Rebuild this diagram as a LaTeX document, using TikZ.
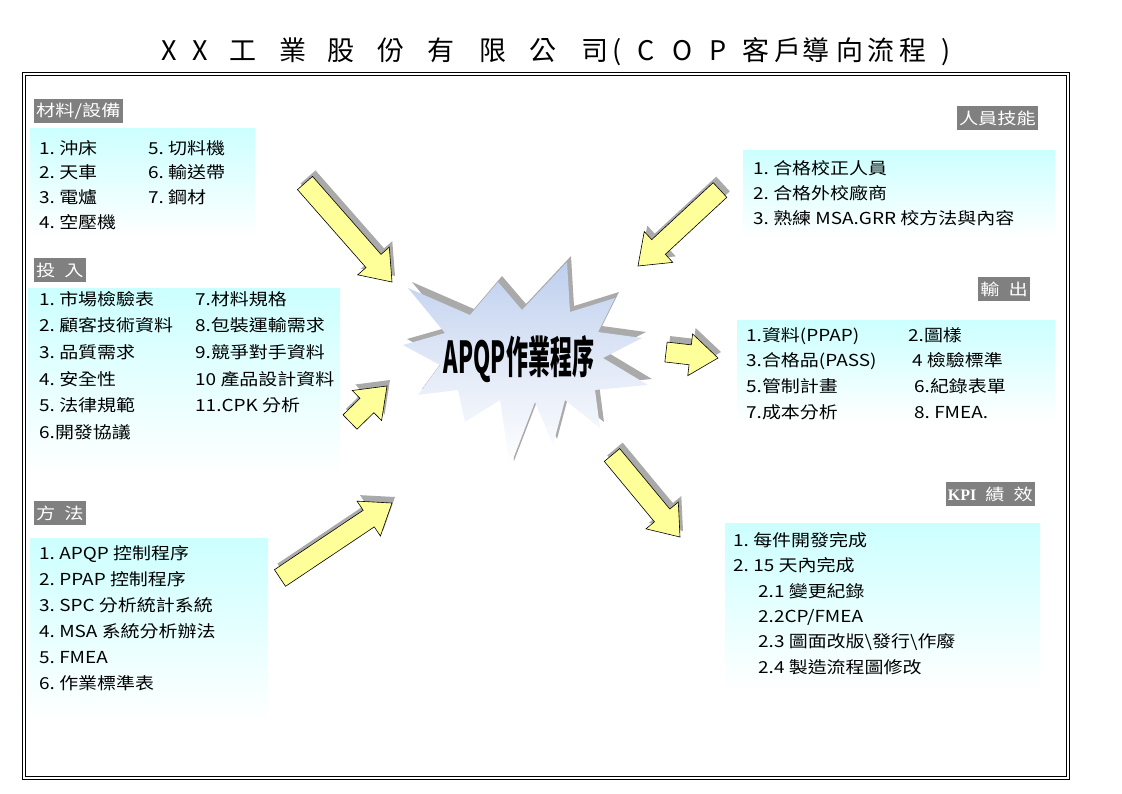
\documentclass[tikz,border=0pt]{standalone}
\usepackage{fontspec}
\usetikzlibrary{calc}
\newfontfamily\cjk{Noto Sans CJK TC}[FakeStretch=1.15]
\newfontfamily\cjklabel{Noto Sans CJK TC}[FakeStretch=1.2]
\newfontfamily\cjktitle{Noto Sans CJK TC}
\newfontfamily\cjkfat{Noto Sans CJK TC}[FakeStretch=0.5]
\newfontfamily\kpifont{Liberation Serif}

\definecolor{labelgray}{RGB}{128,128,128}
\definecolor{palecyan}{RGB}{204,255,255}
\definecolor{arrowyellow}{RGB}{255,255,153}
\definecolor{shadowgray}{RGB}{170,170,170}
\definecolor{burstblue}{RGB}{190,207,238}

\tikzset{
  lbl/.style={fill=labelgray, text=white, font=\cjklabel\fontsize{16}{16}\selectfont,
    inner xsep=2pt, inner ysep=0pt, minimum height=24pt, anchor=west},
  listtext/.style={font=\cjk\fontsize{16.5}{#1}\selectfont, align=left,
    inner sep=0pt, anchor=north west},
  listtext/.default=25.5,
  boxfill/.style={top color=palecyan, bottom color=white},
  arrowbody/.style={fill=arrowyellow, draw=black, line width=0.6pt},
  arrowshadow/.style={fill=shadowgray},
}

\newcommand{\colA}[2]{\makebox[#1pt][l]{#2}}
\newcommand{\tch}[2]{\makebox[#1pt][l]{#2}}
\newcommand{\burstoutline}{(403,345) -- (445,333) -- (408,288) -- (470,315) -- (498,282)
  -- (522,310) -- (567,262) -- (570,312) -- (615,298) -- (598,332) -- (642,338)
  -- (603,358) -- (648,385) -- (595,390) -- (600,428) -- (565,400) -- (553,445)
  -- (535,402) -- (510,467) -- (500,400) -- (465,422) -- (458,390) -- (418,395)
  -- (440,365) -- cycle}
\newcommand{\yarrow}[2]{%
  \coordinate (#2-b) at ($(#2)!28pt!(#1)$);
  \fill[arrowshadow, transform canvas={shift={(3pt,6pt)}}]
    ($(#1)!10pt!90:(#2)$) -- ($(#2-b)!10pt!90:(#2)$) -- ($(#2-b)!21pt!90:(#2)$)
    -- (#2) -- ($(#2-b)!21pt!-90:(#2)$) -- ($(#2-b)!10pt!-90:(#2)$)
    -- ($(#1)!10pt!-90:(#2)$) -- cycle;
  \draw[arrowbody]
    ($(#1)!10pt!90:(#2)$) -- ($(#2-b)!10pt!90:(#2)$) -- ($(#2-b)!21pt!90:(#2)$)
    -- (#2) -- ($(#2-b)!21pt!-90:(#2)$) -- ($(#2-b)!10pt!-90:(#2)$)
    -- ($(#1)!10pt!-90:(#2)$) -- cycle;
}

\begin{document}
\begin{tikzpicture}[x=1pt,y=-1pt]
      \useasboundingbox (0,0) rectangle (1122,793);

      % title and frame
      \node[anchor=base west, inner sep=0pt, font=\cjktitle\fontsize{27}{27}\selectfont] (title) at (161,60)
        {\tch{31}{X}\tch{37}{X}\tch{50}{工}\tch{48}{業}\tch{50}{股}\tch{50}{份}\tch{52}{有}\tch{50}{限}\tch{52}{公}\tch{31}{司}\tch{25}{(}\tch{35}{C}\tch{37}{O}\tch{33}{P}\tch{32}{客}\tch{28}{戶}\tch{34}{導}\tch{31}{向}\tch{32}{流}\tch{42}{程})};
      \draw[line width=0.9pt] (22,72) rectangle (1069,779);
      \draw[line width=0.9pt] (25,75) rectangle (1066,776);

      % boxes
      \shade[boxfill] (30,128) rectangle (255,237);
      \shade[boxfill] (28,288) rectangle (340,475);
      \shade[boxfill] (30,538) rectangle (268,722);
      \shade[boxfill] (743,150) rectangle (1055,238);
      \shade[boxfill] (737,320) rectangle (1055,422);
      \shade[boxfill] (725,523) rectangle (1040,692);

      % labels
      \node[lbl] (matlabel) at (34,111) {材料/設備};
      \node[lbl] (inlabel) at (34,270) {投\hspace{9pt}入};
      \node[lbl] (methlabel) at (34,513) {方\hspace{9pt}法};
      \node[lbl, anchor=east] (stafflabel) at (1038,118) {人員技能};
      \node[lbl, anchor=east] (outlabel) at (1030,289) {輸\hspace{9pt}出};
      \node[lbl, anchor=east] (kpilabel) at (1035,494) {{\kpifont\bfseries KPI}\hspace{9pt}績\hspace{9pt}效};

      % lists
      \node[listtext=24.7] (matlist) at (39,140) {\colA{109}{1.\ 沖床}5.\ 切料機\\
        \colA{109}{2.\ 天車}6.\ 輸送帶\\
        \colA{109}{3.\ 電爐}7.\ 鋼材\\
        4.\ 空壓機};
      \node[listtext=26.6] (inlist) at (39,291) {\colA{156}{1.\ 市場檢驗表}7.材料規格\\
        \colA{156}{2.\ 顧客技術資料}8.包裝運輸需求\\
        \colA{156}{3.\ 品質需求}9.競爭對手資料\\
        \colA{156}{4.\ 安全性}10 產品設計資料\\
        \colA{156}{5.\ 法律規範}11.CPK 分析\\
        6.開發協議};
      \node[listtext=26] (methlist) at (39,545) {1.\ APQP 控制程序\\
        2.\ PPAP 控制程序\\
        3.\ SPC 分析統計系統\\
        4.\ MSA 系統分析辦法\\
        5.\ FMEA\\
        6.\ 作業標準表};
      \node[listtext=25] (stafflist) at (753,160) {1.\ 合格校正人員\\
        2.\ 合格外校廠商\\
        3.\ 熟練 MSA.GRR 校方法與內容};
      \node[listtext=25.7] (outlist) at (746,327) {\colA{162}{1.資料(PPAP)}2.圖樣\\
        \colA{166}{3.合格品(PASS)}4 檢驗標準\\
        \colA{168}{5.管制計畫}6.紀錄表單\\
        \colA{168}{7.成本分析}8.\ FMEA.};
      \node[listtext=25.4] (kpilist) at (733,532) {1.\ 每件開發完成\\
        2.\ 15 天內完成\\
        \hspace*{25pt}2.1 變更紀錄\\
        \hspace*{25pt}2.2CP/FMEA\\
        \hspace*{25pt}2.3 圖面改版\textbackslash 發行\textbackslash 作廢\\
        \hspace*{25pt}2.4 製造流程圖修改};

      % centre burst
      \fill[shadowgray, transform canvas={shift={(4pt,6pt)}}] \burstoutline;
      \shade[top color=burstblue, bottom color=white, middle color=burstblue!45] \burstoutline;
      \node[inner sep=0pt, font=\cjkfat\bfseries\fontsize{44}{44}\selectfont] (apqp) at (519,359) {APQP作業程序};

      % arrows
      \coordinate (mat-t) at (305,183);
      \coordinate (mat-h) at (392,282);
      \coordinate (staff-t) at (720,190);
      \coordinate (staff-h) at (638,266);
      \coordinate (in-t) at (350,422);
      \coordinate (in-h) at (387,386);
      \coordinate (meth-t) at (280,578);
      \coordinate (meth-h) at (392,503);
      \coordinate (out-t) at (666,352);
      \coordinate (out-h) at (718,358);
      \coordinate (kpi-t) at (612,455);
      \coordinate (kpi-h) at (680,537);
      \yarrow{mat-t}{mat-h}
      \yarrow{staff-t}{staff-h}
      \yarrow{in-t}{in-h}
      \yarrow{meth-t}{meth-h}
      \yarrow{out-t}{out-h}
      \yarrow{kpi-t}{kpi-h}
    \end{tikzpicture}
\end{document}
